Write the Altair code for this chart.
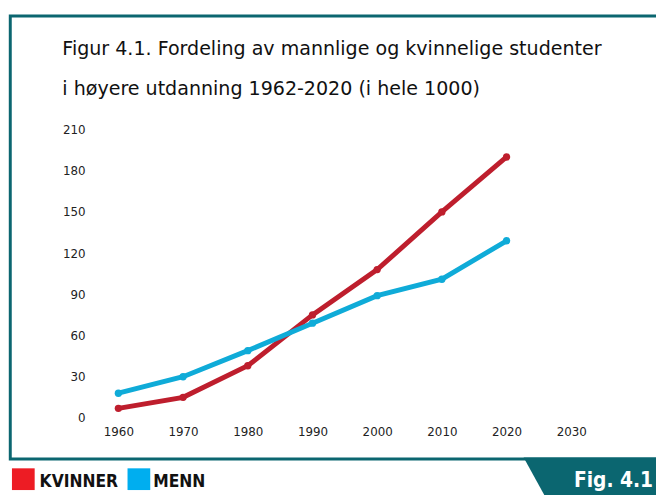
import altair as alt
import pandas as pd

# ---- chart values ----
years = [1960, 1970, 1980, 1990, 2000, 2010, 2020]
kvinner = [7, 15, 38, 75, 108, 150, 190]
menn = [18, 30, 49, 69, 89, 101, 129]
series_names = ["KVINNER", "MENN"]
y_ticks = [0, 30, 60, 90, 120, 150, 180, 210]
x_ticks = [1960, 1970, 1980, 1990, 2000, 2010, 2020, 2030]
title_lines = [
    "Figur 4.1. Fordeling av mannlige og kvinnelige studenter",
    "i høyere utdanning 1962-2020 (i hele 1000)",
]
fig_label = "Fig. 4.1"

# ---- styles ----
TEAL = "#0b6670"
LINE_RED = "#be1e2d"
LINE_BLUE = "#0fabd8"
LEG_RED = "#ed1c24"
LEG_BLUE = "#00aeef"
FONT = "DejaVu Sans"
COND = "'DejaVu Sans Condensed', 'Liberation Sans', Roboto, sans-serif"

rows = []
for name, vals in zip(series_names, [kvinner, menn]):
    for yr, v in zip(years, vals):
        rows.append({"year": yr, "value": v, "series": name})
df = pd.DataFrame(rows)
dummy = pd.DataFrame({"d": [0]})

x_enc = alt.X("year:Q", scale=alt.Scale(domain=[1955, 2035], nice=False),
              axis=alt.Axis(values=x_ticks, format="d", title=None, grid=False,
                            domain=False, ticks=False, labelPadding=9,
                            labelFontSize=12, labelFont=FONT, labelColor="#222222"))
y_enc = alt.Y("value:Q", scale=alt.Scale(domain=[0, 210], nice=False),
              axis=alt.Axis(values=y_ticks, title=None, grid=False,
                            domain=False, ticks=False, labelPadding=1,
                            labelFontSize=12, labelFont=FONT, labelColor="#222222"))
color_enc = alt.Color("series:N", scale=alt.Scale(domain=series_names,
                                                  range=[LINE_RED, LINE_BLUE]),
                      legend=None)

lines = alt.Chart(df).mark_line(strokeWidth=5, strokeCap="round").encode(
    x=x_enc, y=y_enc, color=color_enc, detail="series:N")
points = alt.Chart(df).mark_circle(size=55, opacity=1).encode(
    x="year:Q", y="value:Q", color=color_enc)

frame = alt.Chart(dummy).mark_rect(fill="transparent", stroke=TEAL, strokeWidth=3).encode(
    x=alt.value(-76.7), x2=alt.value(600), y=alt.value(-115), y2=alt.value(333.5))

tab = alt.Chart(dummy).mark_point(
    shape="M443,332L600,332L600,372L465,372Z", size=4, filled=True,
    color=TEAL, opacity=1, strokeWidth=0).encode(x=alt.value(0), y=alt.value(0))

t1 = alt.Chart(dummy).mark_text(text=title_lines[0], align="left", baseline="alphabetic",
                                font=FONT, fontSize=19.3, color="#111111").encode(
    x=alt.value(-24), y=alt.value(-75.3))
t2 = alt.Chart(dummy).mark_text(text=title_lines[1], align="left", baseline="alphabetic",
                                font=FONT, fontSize=19.3, color="#111111").encode(
    x=alt.value(-24), y=alt.value(-35.3))

sq_red = alt.Chart(dummy).mark_rect(color=LEG_RED).encode(
    x=alt.value(-75), x2=alt.value(-52), y=alt.value(343), y2=alt.value(365))
sq_blue = alt.Chart(dummy).mark_rect(color=LEG_BLUE).encode(
    x=alt.value(42), x2=alt.value(65), y=alt.value(343), y2=alt.value(365))
lab_k = alt.Chart(dummy).mark_text(text=series_names[0], align="left", baseline="alphabetic",
                                   font=COND, fontWeight="bold", fontSize=17.5,
                                   color="#111111").encode(x=alt.value(-47), y=alt.value(362))
lab_m = alt.Chart(dummy).mark_text(text=series_names[1], align="left", baseline="alphabetic",
                                   font=COND, fontWeight="bold", fontSize=17.5,
                                   color="#111111").encode(x=alt.value(68), y=alt.value(362))
fig = alt.Chart(dummy).mark_text(text=fig_label, align="right", baseline="alphabetic",
                                 font=COND, fontWeight="bold", fontSize=21,
                                 color="#ffffff").encode(x=alt.value(574), y=alt.value(362))

chart = alt.layer(frame, tab, lines, points, t1, t2, sq_red, sq_blue, lab_k, lab_m, fig).properties(
    width=524, height=292,
    background="white",
    autosize=alt.AutoSizeParams(type="none"),
    padding={"left": 79, "top": 120, "right": 53, "bottom": 75},
).configure_view(strokeWidth=0, stroke="transparent")

chart.save("out.html", embed_options={"renderer": "svg", "actions": False})
